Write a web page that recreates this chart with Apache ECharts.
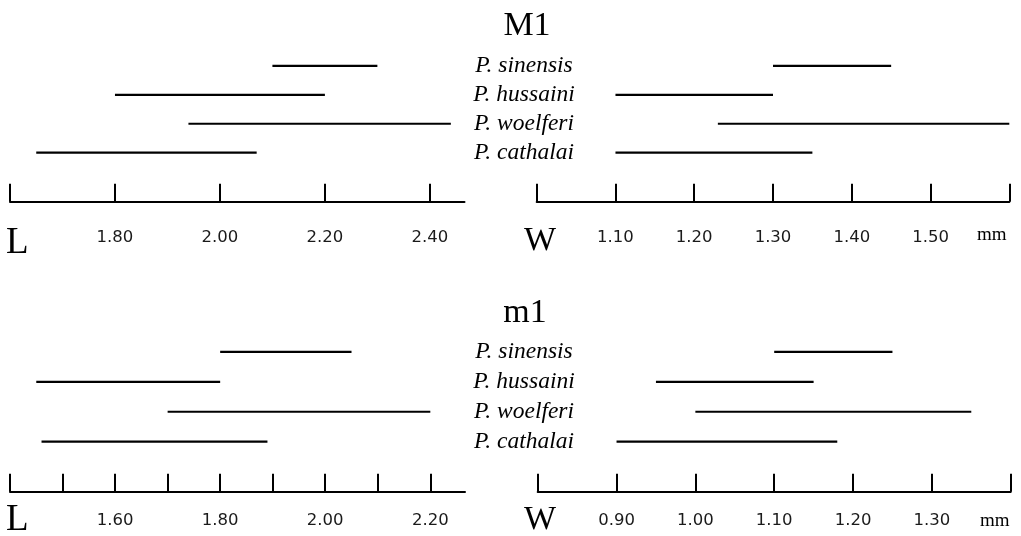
<!DOCTYPE html>
<html>
<head>
<meta charset="utf-8">
<script src="https://cdn.jsdelivr.net/npm/echarts@6/dist/echarts.min.js"></script>
<style>html,body{margin:0;padding:0;background:#fff;}#c{width:1021px;height:536px;}</style>
</head>
<body>
<div id="c"></div>
<script>
const species = ['P. sinensis', 'P. hussaini', 'P. woelferi', 'P. cathalai'];

// M1 length (L)
const m1UpperLMin = [2.10, 1.80, 1.94, 1.65];
const m1UpperLMax = [2.30, 2.20, 2.44, 2.07];
// M1 width (W)
const m1UpperWMin = [1.30, 1.10, 1.23, 1.10];
const m1UpperWMax = [1.45, 1.30, 1.60, 1.35];
// m1 length (L)
const m1LowerLMin = [1.80, 1.45, 1.70, 1.46];
const m1LowerLMax = [2.05, 1.80, 2.20, 1.89];
// m1 width (W)
const m1LowerWMin = [1.10, 0.95, 1.00, 0.90];
const m1LowerWMax = [1.25, 1.15, 1.35, 1.18];

// axis ticks and labels
const upperLTicks = [1.6, 1.8, 2.0, 2.2, 2.4];
const upperLLabels = [1.8, 2.0, 2.2, 2.4];
const upperWTicks = [1.0, 1.1, 1.2, 1.3, 1.4, 1.5, 1.6];
const upperWLabels = [1.1, 1.2, 1.3, 1.4, 1.5];
const lowerLTicks = [1.4, 1.5, 1.6, 1.7, 1.8, 1.9, 2.0, 2.1, 2.2];
const lowerLLabels = [1.6, 1.8, 2.0, 2.2];
const lowerWTicks = [0.8, 0.9, 1.0, 1.1, 1.2, 1.3, 1.4];
const lowerWLabels = [0.9, 1.0, 1.1, 1.2, 1.3];

const panels = [
  {min: m1UpperLMin, max: m1UpperLMax, ticks: upperLTicks, labels: upperLLabels, axMin: 1.6, axMax: 2.466,
   grid: {left: 10, width: 454.5, top: 51.5, height: 115.6}, offset: 34.6, labelMargin: 28, showSpecies: true, speciesMargin: 59.5},
  {min: m1UpperWMin, max: m1UpperWMax, ticks: upperWTicks, labels: upperWLabels, axMin: 1.0, axMax: 1.6,
   grid: {left: 536.7, width: 472.6, top: 51.5, height: 115.6}, offset: 34.6, labelMargin: 28, showSpecies: false},
  {min: m1LowerLMin, max: m1LowerLMax, ticks: lowerLTicks, labels: lowerLLabels, axMin: 1.4, axMax: 2.266,
   grid: {left: 10, width: 455, top: 337, height: 119.6}, offset: 35.1, labelMargin: 21, showSpecies: true, speciesMargin: 59},
  {min: m1LowerWMin, max: m1LowerWMax, ticks: lowerWTicks, labels: lowerWLabels, axMin: 0.8, axMax: 1.4,
   grid: {left: 537.7, width: 473, top: 337, height: 119.6}, offset: 35.1, labelMargin: 21, showSpecies: false}
];

const grids = [], xAxes = [], yAxes = [], series = [];
panels.forEach((p, i) => {
  grids.push(Object.assign({containLabel: false}, p.grid));
  xAxes.push({
    type: 'value', gridIndex: i, min: p.axMin, max: p.axMax, position: 'bottom', offset: p.offset,
    axisLine: {show: true, lineStyle: {color: '#000', width: 2}},
    axisTick: {show: true, inside: true, length: 18, lineStyle: {color: '#000', width: 2}, customValues: p.ticks},
    axisLabel: {show: true, margin: p.labelMargin, customValues: p.labels, color: '#1a1a1a',
      fontFamily: 'DejaVu Sans', fontSize: 16.5, formatter: v => Number(v).toFixed(2)},
    splitLine: {show: false}
  });
  yAxes.push({
    type: 'category', gridIndex: i, data: species, inverse: true, position: 'right',
    axisLine: {show: false}, axisTick: {show: false}, splitLine: {show: false},
    axisLabel: {show: p.showSpecies, interval: 0, hideOverlap: false, align: 'center', margin: p.speciesMargin || 0, color: '#000',
      fontFamily: 'Liberation Serif', fontStyle: 'italic', fontSize: 23.5}
  });
  species.forEach((s, k) => {
    series.push({
      type: 'line', xAxisIndex: i, yAxisIndex: i, symbol: 'none', silent: true,
      lineStyle: {color: '#000', width: 2.2}, animation: false,
      data: [[p.min[k], s], [p.max[k], s]]
    });
  });
});

const serif = 'Liberation Serif';
const txt = (text, x, y, size, align) => ({
  type: 'text', x: x, y: y, silent: true,
  style: {text: text, font: size + 'px "' + serif + '"', fill: '#000', textAlign: align || 'center', textVerticalAlign: 'middle'}
});

const chart = echarts.init(document.getElementById('c'), null, {renderer: 'canvas'});
chart.setOption({
  backgroundColor: '#fff',
  animation: false,
  grid: grids,
  xAxis: xAxes,
  yAxis: yAxes,
  series: series,
  graphic: [
    txt('M1', 527, 26, 34),
    txt('m1', 525, 313, 34),
    txt('L', 6, 243, 37, 'left'),
    txt('W', 524, 241, 34, 'left'),
    txt('mm', 977, 235, 19, 'left'),
    txt('L', 6, 520, 37, 'left'),
    txt('W', 524, 520, 34, 'left'),
    txt('mm', 980, 521, 19, 'left')
  ]
});
</script>
</body>
</html>
